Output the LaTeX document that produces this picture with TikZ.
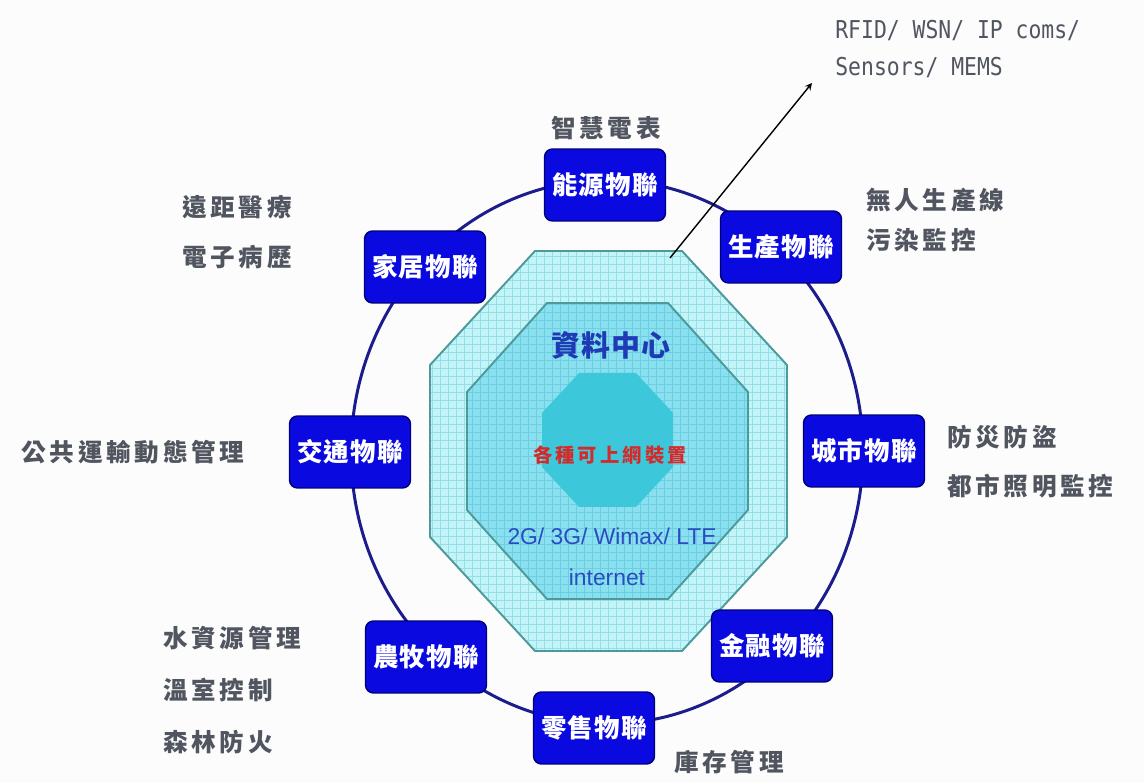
\documentclass[tikz,border=0pt]{standalone}
\usepackage{fontspec}
\setmainfont{Liberation Sans}
\newfontfamily\cjkside[LetterSpace=15]{Noto Sans CJK TC}
\newfontfamily\cjkbox[LetterSpace=5]{Noto Sans CJK TC}
\newfontfamily\cjkhub[LetterSpace=3]{Noto Sans CJK TC}
\newfontfamily\cjkdev[LetterSpace=16]{Noto Sans CJK TC}
\newfontfamily\techmono[FakeStretch=0.87]{DejaVu Sans Mono}
\usepackage{tikz}

\definecolor{ringblue}{HTML}{1C1C8C}
\definecolor{boxblue}{HTML}{0A0AE0}
\definecolor{boxedge}{HTML}{00007A}
\definecolor{octedge}{HTML}{4E9A9A}
\definecolor{outerfill}{HTML}{C2F4F8}
\definecolor{outergrid}{HTML}{94DFEA}
\definecolor{midfill}{HTML}{8AE0EE}
\definecolor{midgrid}{HTML}{6ACFE2}
\definecolor{corefill}{HTML}{3CC8DA}
\definecolor{labelgray}{HTML}{50555F}
\definecolor{hubblue}{HTML}{1F3AB5}
\definecolor{netblue}{HTML}{2A4CC0}
\definecolor{devred}{HTML}{D42A2A}

% octagon: left, top, right, bottom, cut x, cut y
\newcommand{\octa}[6]{({#1+#5},#2) -- ({#3-#5},#2) -- (#3,{#2+#6}) -- (#3,{#4-#6}) -- ({#3-#5},#4) -- ({#1+#5},#4) -- (#1,{#4-#6}) -- (#1,{#2+#6}) -- cycle}

\tikzset{
	iotbox/.style={draw=boxedge, line width=0.8pt, fill=boxblue, rounded corners=0.16cm,
			minimum width=2.42cm, minimum height=1.44cm, inner sep=0pt, text=white,
			font=\cjkbox\bfseries\fontsize{14.5}{16}\selectfont},
	usecase/.style={text=labelgray, align=left, inner sep=0pt,
			font=\cjkside\bfseries\fontsize{14}{28}\selectfont},
	ring/.style={draw=ringblue, line width=1.7pt},
	octline/.style={draw=octedge, line width=1.1pt}
}

\begin{document}
\begin{tikzpicture}[x=0.02cm, y=-0.02cm, >=stealth]

		\fill[white!98!gray] (0,0) rectangle (1144,783);
		\useasboundingbox (0,0) rectangle (1144,783);

		% Ring of domains
		\draw[ring] (607,452) ellipse [x radius=5.12cm, y radius=5.44cm];

		% Octagons: network, data centre, devices
		\fill[outerfill] \octa{430}{251}{787}{651}{105}{114};
		\begin{scope}
			\clip \octa{430}{251}{787}{651}{105}{114};
			\draw[outergrid, line width=0.35pt, step=0.16cm] (420,240) grid (800,660);
		\end{scope}
		\draw[octline] \octa{430}{251}{787}{651}{105}{114};

		\fill[midfill] \octa{467}{303}{748}{599}{80}{89};
		\begin{scope}
			\clip \octa{467}{303}{748}{599}{80}{89};
			\draw[midgrid, line width=0.35pt, step=0.16cm] (420,240) grid (800,660);
		\end{scope}
		\draw[octline] \octa{467}{303}{748}{599}{80}{89};

		\fill[corefill] \octa{542}{373}{673}{507}{37}{40};

		\node (hub) at (611,345) {\color{hubblue}\cjkhub\bfseries\fontsize{16.5}{18}\selectfont 資料中心};
		\node (devices) at (610,455) {\color{devred}\cjkdev\bfseries\fontsize{11}{12}\selectfont 各種可上網裝置};
		\node (net) at (612,536) {\color{netblue}\fontsize{13}{15}\selectfont 2G/ 3G/ Wimax/ LTE};
		\node (inet) at (607,577) {\color{netblue}\fontsize{13}{15}\selectfont internet};

		% Domain boxes
		\node[iotbox] (energy) at (605,185) {能源物聯};
		\node[iotbox] (production) at (781,247) {生產物聯};
		\node[iotbox] (city) at (864,451) {城市物聯};
		\node[iotbox] (finance) at (772,646) {金融物聯};
		\node[iotbox] (retail) at (594,728) {零售物聯};
		\node[iotbox] (farm) at (426,657) {農牧物聯};
		\node[iotbox] (traffic) at (350,452) {交通物聯};
		\node[iotbox] (home) at (425,267) {家居物聯};

		% Applications
		\node[usecase] (meter) at (606,128) {智慧電表};
		\node[usecase, anchor=west] (homeapp) at (182,232) {遠距醫療\\電子病歷};
		\node[usecase, anchor=west, font=\cjkside\bfseries\fontsize{14}{23}\selectfont] (prodapp) at (866,220) {無人生產線\\污染監控};
		\node[usecase] (trafficapp) at (133,452) {公共運輸動態管理};
		\node[usecase, anchor=west] (cityapp) at (947,462) {防災防盜\\都市照明監控};
		\node[usecase, anchor=west, font=\cjkside\bfseries\fontsize{14}{29.5}\selectfont] (farmapp) at (163,690) {水資源管理\\溫室控制\\森林防火};
		\node[usecase] (retailapp) at (729,762) {庫存管理};
		\node[usecase, anchor=west, font=\techmono\fontsize{14}{21.5}\selectfont] (tech) at (835,49) {RFID/ WSN/ IP coms/\\Sensors/ MEMS};

		% Arrow to technologies
		\coordinate (arrfoot) at (670,258);
		\coordinate (arrtip) at (812,83);
		\draw[->, line width=0.8pt] (arrfoot) -- (arrtip);

	\end{tikzpicture}
\end{document}
